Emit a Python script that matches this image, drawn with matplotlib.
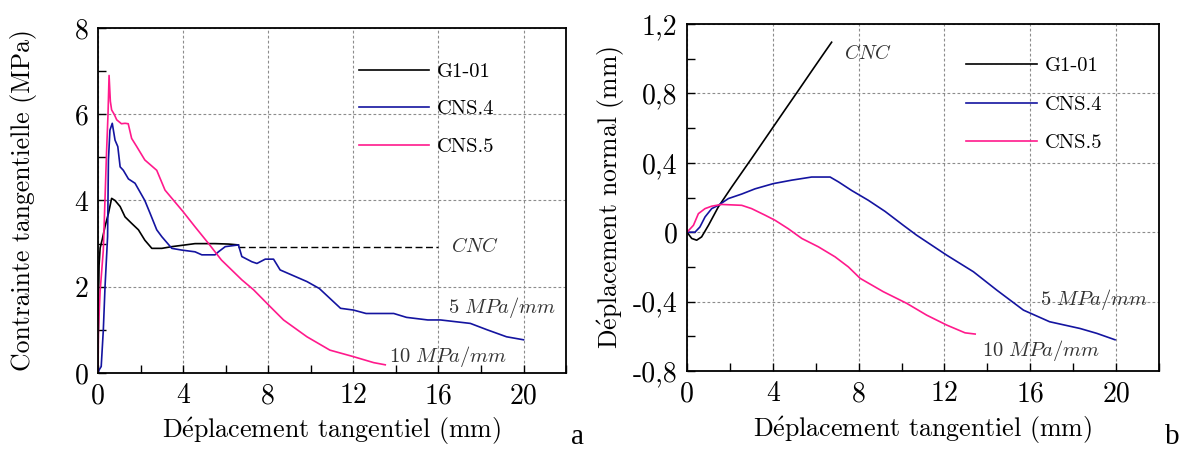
import numpy as np
import matplotlib
matplotlib.use("Agg")
import matplotlib.pyplot as plt
from matplotlib.ticker import MultipleLocator, FixedLocator

plt.rcParams["font.family"] = ["cmr10", "DejaVu Serif"]
plt.rcParams["mathtext.fontset"] = "cm"
plt.rcParams["axes.unicode_minus"] = False

# ---- panel a : tangential stress vs tangential displacement ----
g1_x = [0, 0.01, 0.02, 0.03, 0.05, 0.1, 0.2, 0.33, 0.49, 0.64, 0.8, 1.04, 1.27,
        1.58, 1.9, 2.2, 2.53, 3.0, 3.47, 4.1, 4.56, 5.5, 6.13, 6.6]
g1_y = [0, 0.9, 1.04, 1.92, 2.5, 2.9, 3.1, 3.4, 3.7, 4.05, 4.0, 3.86, 3.62,
        3.47, 3.32, 3.08, 2.89, 2.89, 2.93, 2.97, 3.0, 3.0, 2.99, 2.97]
cnc_x = [6.6, 16.0]
cnc_y = [2.93, 2.93]

cns4_x = [0, 0.05, 0.15, 0.25, 0.33, 0.45, 0.49, 0.56, 0.67, 0.8, 0.93, 1.04,
          1.19, 1.43, 1.74, 2.2, 2.45, 2.76, 3.0, 3.47, 3.94, 4.56, 4.88, 5.5,
          5.66, 5.98, 6.6, 6.76, 7.23, 7.47, 7.86, 8.25, 8.56, 9.82, 10.4, 11.4,
          12.0, 12.6, 13.9, 14.5, 15.5, 16.1, 17.5, 18.3, 19.2, 20.0]
cns4_y = [0, 0.07, 0.15, 1.0, 2.0, 3.16, 4.94, 5.63, 5.79, 5.4, 5.25, 4.78,
          4.7, 4.5, 4.4, 4.0, 3.7, 3.32, 3.16, 2.89, 2.85, 2.81, 2.74, 2.74,
          2.81, 2.93, 2.97, 2.7, 2.58, 2.54, 2.64, 2.64, 2.39, 2.12, 1.96, 1.5,
          1.46, 1.38, 1.38, 1.29, 1.23, 1.23, 1.15, 1.0, 0.84, 0.77]

cns5_x = [0, 0.02, 0.1, 0.25, 0.4, 0.47, 0.52, 0.58, 0.64, 0.76, 0.88, 1.1,
          1.27, 1.42, 1.58, 1.82, 2.2, 2.76, 3.15, 4.0, 4.56, 5.2, 5.8, 6.76,
          7.31, 8.09, 8.72, 9.82, 10.9, 12.0, 12.96, 13.5]
cns5_y = [0, 1.0, 1.9, 2.85, 5.1, 6.0, 6.9, 6.3, 6.1, 6.0, 5.87, 5.78,
          5.79, 5.78, 5.44, 5.25, 4.94, 4.7, 4.24, 3.74, 3.39, 3.0, 2.62, 2.16,
          1.93, 1.54, 1.23, 0.84, 0.53, 0.38, 0.24, 0.19]

# ---- panel b : normal displacement vs tangential displacement ----
g1n_x = [0, 0.22, 0.45, 0.68, 1.0, 1.46, 2.08, 3.01, 4.02, 4.57, 5.19, 5.81,
         6.43, 6.74]
g1n_y = [0, -0.036, -0.046, -0.027, 0.04, 0.146, 0.26, 0.425, 0.607, 0.706,
         0.817, 0.929, 1.04, 1.095]

cns4n_x = [0, 0.37, 0.6, 0.84, 1.15, 1.46, 1.93, 2.55, 3.17, 4.02, 4.88, 5.81,
           6.67, 7.06, 7.68, 8.45, 9.23, 10.08, 10.7, 12.1, 13.35, 14.44, 15.68,
           16.9, 18.32, 19.1, 19.95]
cns4n_y = [0, 0, 0.03, 0.088, 0.136, 0.155, 0.194, 0.22, 0.25, 0.28, 0.3, 0.318,
           0.318, 0.29, 0.24, 0.184, 0.12, 0.04, -0.017, -0.132, -0.228, -0.334,
           -0.449, -0.516, -0.555, -0.583, -0.62]

cns5n_x = [0, 0.3, 0.53, 0.84, 1.15, 1.62, 2.55, 3.01, 3.64, 4.1, 4.72, 5.35,
           6.12, 6.9, 7.52, 8.07, 9.15, 10.24, 11.17, 12.1, 12.96, 13.43]
cns5n_y = [0, 0.04, 0.107, 0.136, 0.15, 0.16, 0.155, 0.136, 0.098, 0.069, 0.02,
           -0.036, -0.084, -0.142, -0.2, -0.266, -0.343, -0.41, -0.478, -0.535,
           -0.58, -0.587]

series_labels = ["G1-01", "CNS.4", "CNS.5"]
x_ticks = [0, 4, 8, 12, 16, 20]
y_ticks_a = [0, 2, 4, 6, 8]
y_ticks_b = [-0.8, -0.4, 0, 0.4, 0.8, 1.2]
y_ticklabels_b = ["-0,8", "-0,4", "0", "0,4", "0,8", "1,2"]

BLACK = "#000000"
BLUE = "#1414a0"
PINK = "#ff1a8c"
ANNOT = "#333333"

XLABEL = r"D$\acute{\mathrm{e}}$placement tangentiel (mm)"


def style_axis(ax):
    ax.set_xlim(0, 22)
    ax.set_xticks(x_ticks)
    ax.xaxis.set_minor_locator(MultipleLocator(2))
    ax.grid(True, which="major", color="#8c8c8c", linestyle=(0, (2.5, 2)),
            linewidth=0.8)
    ax.tick_params(which="both", direction="in", length=6, width=1.0,
                   labelsize=20, top=False, right=False, pad=7)
    for sp in ax.spines.values():
        sp.set_linewidth(1.3)
    ax.set_xlabel(XLABEL, fontsize=18.7)
    ax.xaxis.set_label_coords(0.5, -0.125)


fig = plt.figure(figsize=(11.88, 4.53), dpi=100)
ax1 = fig.add_axes([0.0825, 0.1766, 0.394, 0.7616])
ax2 = fig.add_axes([0.5783, 0.181, 0.3973, 0.766])

# panel a
l1, = ax1.plot(g1_x, g1_y, color=BLACK, lw=1.2)
ax1.plot(cnc_x, cnc_y, color=BLACK, lw=1.0, linestyle=(0, (5, 2.5)))
l2, = ax1.plot(cns4_x, cns4_y, color=BLUE, lw=1.2)
l3, = ax1.plot(cns5_x, cns5_y, color=PINK, lw=1.2)
style_axis(ax1)
ax1.set_ylim(0, 8)
ax1.set_yticks(y_ticks_a)
ax1.yaxis.set_minor_locator(MultipleLocator(1))
ax1.set_ylabel("Contrainte tangentielle (MPa)", fontsize=18.5)
ax1.yaxis.set_label_coords(-0.131, 0.5)
ax1.text(16.6, 2.93, r"$CNC$", fontsize=14.5, color=ANNOT, va="center")
ax1.text(16.45, 1.53, r"$5\ MPa/mm$", fontsize=14.8, color=ANNOT, va="center")
ax1.text(13.7, 0.39, r"$10\ MPa/mm$", fontsize=14.8, color=ANNOT, va="center")
ax1.legend([l1, l2, l3], series_labels, loc="upper left",
           bbox_to_anchor=(0.558, 0.9), frameon=False, fontsize=14.8,
           handlelength=3.4, handletextpad=0.4, labelspacing=0.93,
           borderpad=0, borderaxespad=0)

# panel b
m1, = ax2.plot(g1n_x, g1n_y, color=BLACK, lw=1.2)
m2, = ax2.plot(cns4n_x, cns4n_y, color=BLUE, lw=1.2)
m3, = ax2.plot(cns5n_x, cns5n_y, color=PINK, lw=1.2)
style_axis(ax2)
ax2.set_ylim(-0.8, 1.2)
ax2.set_yticks(y_ticks_b)
ax2.set_yticklabels(y_ticklabels_b)
ax2.yaxis.set_minor_locator(FixedLocator([-0.6, -0.2, 0.2, 0.6, 1.0]))
ax2.set_ylabel(r"D$\acute{\mathrm{e}}$placement normal (mm)", fontsize=18.5)
ax2.yaxis.set_label_coords(-0.127, 0.5)
ax2.text(7.3, 1.03, r"$CNC$", fontsize=14.5, color=ANNOT, va="center")
ax2.text(16.45, -0.39, r"$5\ MPa/mm$", fontsize=14.8, color=ANNOT, va="center")
ax2.text(13.75, -0.68, r"$10\ MPa/mm$", fontsize=14.8, color=ANNOT, va="center")
ax2.legend([m1, m2, m3], series_labels, loc="upper left",
           bbox_to_anchor=(0.591, 0.905), frameon=False, fontsize=14.8,
           handlelength=3.45, handletextpad=0.4, labelspacing=0.98,
           borderpad=0, borderaxespad=0)

fig.text(0.4865, 0.035, "a", fontsize=21, family="Liberation Serif",
         ha="center", va="center")
fig.text(0.9865, 0.035, "b", fontsize=21, family="Liberation Serif",
         ha="center", va="center")

fig.savefig("out.png", dpi=100)
